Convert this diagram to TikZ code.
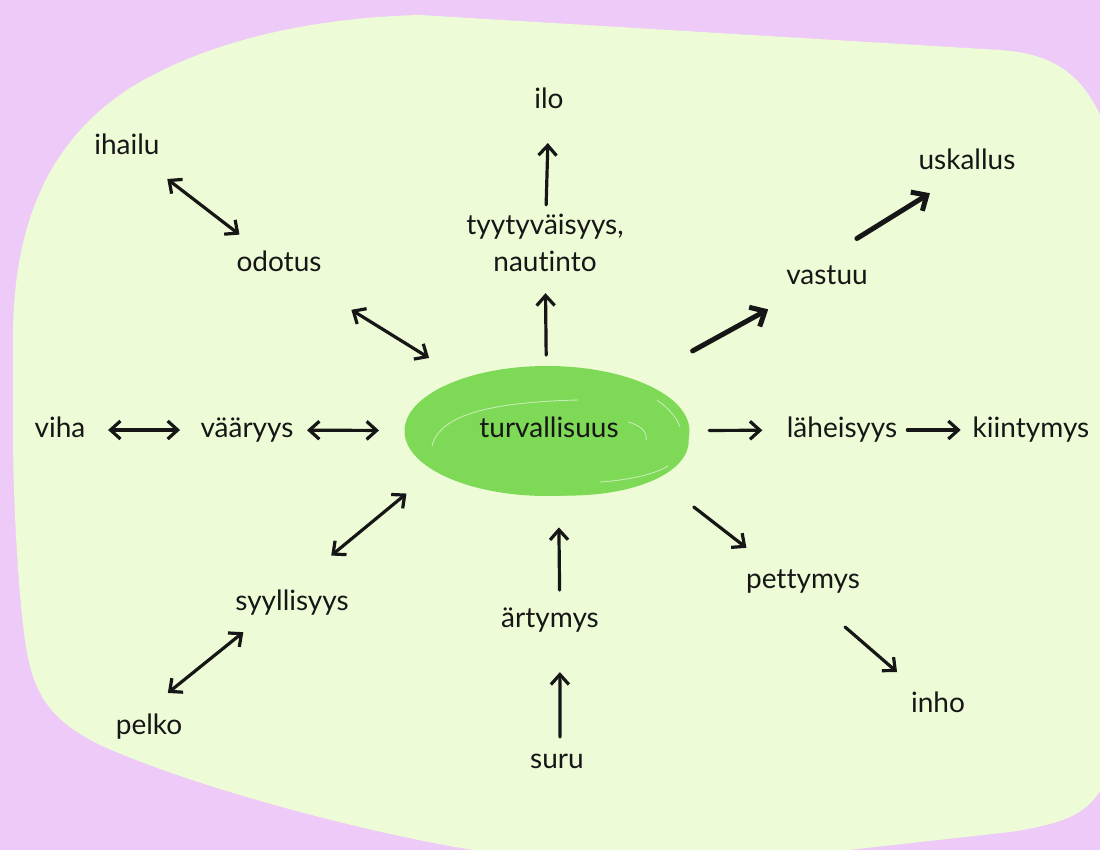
\documentclass[tikz,border=0pt]{standalone}
\usepackage{fontspec}
\setmainfont{Lato}[Ligatures=NoCommon]
\usetikzlibrary{arrows.meta,calc,shapes.geometric}
\definecolor{lilac}{HTML}{EDCAF7}
\definecolor{leaf}{HTML}{EEFBD7}
\definecolor{blob}{HTML}{7ED957}
\definecolor{ink}{HTML}{161616}
\newcommand{\word}{\fontsize{28}{37}\selectfont}

\begin{document}
\begin{tikzpicture}[x=1pt,y=-1pt,font=\word,
  lbl/.style={text=ink,inner sep=0pt,text height=20.5pt,text depth=6.5pt},
  arr/.style={draw=ink,line width=3.2pt,line cap=round,-{Straight Barb[length=10pt,width=18pt]}},
  dblarr/.style={arr,{Straight Barb[length=10pt,width=18pt]}-{Straight Barb[length=10pt,width=18pt]}},
  thickarr/.style={draw=ink,line width=5pt,line cap=round,-{Straight Barb[length=12pt,width=22pt]}},
  streak/.style={white,opacity=0.55,line width=0.9pt,line cap=round}]
\useasboundingbox (0,0) rectangle (1100,850);
\fill[lilac] (0,0) rectangle (1100,850);
% green sheet
\fill[leaf] (13,330) .. controls (15,220) and (50,140) .. (130,88)
  .. controls (200,45) and (300,18) .. (420,15) -- (1000,50)
  .. controls (1060,54) and (1090,80) .. (1110,140) -- (1110,770)
  .. controls (1095,810) and (1075,822) .. (1010,832) -- (830,852) -- (650,870) -- (480,851)
  .. controls (380,836) and (200,790) .. (100,745)
  .. controls (55,722) and (33,700) .. (25,640)
  .. controls (18,590) and (13,500) .. (13,430) -- cycle;

% centre
\node[ellipse,fill=blob,minimum width=285pt,minimum height=130pt,inner sep=0pt] (turv) at (547,431) {};
\fill[blob] (551,433) ellipse [x radius=138, y radius=62, rotate=-4];
\draw[streak] (432,446) .. controls (440,412) and (500,402) .. (578,400);
\draw[streak] (628,422) .. controls (640,425) and (648,432) .. (646,440);
\draw[streak] (600,482) .. controls (630,480) and (655,474) .. (668,466);
\draw[streak] (657,400) .. controls (668,408) and (676,416) .. (680,427);
\node[lbl] (turvtxt) at (549,430) {turvallisuus};

% labels
\node[lbl] (ilo) at (549,102) {ilo};
\node[lbl] (ihailu) at (127,148) {ihailu};
\node[lbl] (uskallus) at (967,163) {uskallus};
\node[lbl,align=center,text height=57.5pt] (tyyty) at (545,246) {tyytyväisyys,\\nautinto};
\node[lbl] (odotus) at (279,265) {odotus};
\node[lbl] (vastuu) at (827,277) {vastuu};
\node[lbl] (viha) at (60,430) {viha};
\node[lbl] (vaaryys) at (247,430) {vääryys};
\node[lbl] (laheisyys) at (842,430) {läheisyys};
\node[lbl] (kiintymys) at (1031,430) {kiintymys};
\node[lbl] (pettymys) at (803,581) {pettymys};
\node[lbl] (syyl) at (292,603) {syyllisyys};
\node[lbl] (artymys) at (550,620) {ärtymys};
\node[lbl] (inho) at (938,705) {inho};
\node[lbl] (pelko) at (149,727) {pelko};
\node[lbl] (suru) at (557,761) {suru};

% arrows
\draw[dblarr] ($(odotus)!0.26!(ihailu)$) -- ($(odotus)!0.735!(ihailu)$);
\draw[dblarr] ($(turv)!0.44!(odotus)$) -- ($(turv)!0.73!(odotus)$);
\draw[arr] ($(turv)!0.41!(tyyty)$) -- ($(turv)!0.745!(tyyty)$);
\draw[arr] ($(tyyty)!0.285!(ilo)$) -- ($(tyyty)!0.715!(ilo)$);
\draw[thickarr] ($(turv)!0.52!(vastuu)$) -- ($(turv)!0.79!(vastuu)$);
\draw[thickarr] ($(vastuu)!0.27!13:(uskallus)$) -- ($(vastuu)!0.735!(uskallus)$);
\draw[dblarr] ($(viha)!0.257!(vaaryys)$) -- ($(viha)!0.642!(vaaryys)$);
\draw[dblarr] ($(vaaryys)!0.2!(turv)$) -- ($(vaaryys)!0.44!(turv)$);
\draw[arr] ($(turv)!0.55!(laheisyys)$) -- ($(turv)!0.73!(laheisyys)$);
\draw[arr] ($(laheisyys)!0.346!(kiintymys)$) -- ($(laheisyys)!0.628!(kiintymys)$);
\draw[dblarr] ($(turv)!0.5!-10:(syyl)$) -- ($(turv)!0.81!-4:(syyl)$);
\draw[dblarr] ($(syyl)!0.3!-10:(pelko)$) -- ($(syyl)!0.81!-5:(pelko)$);
\draw[arr] ($(turv)!0.557!3:(pettymys)$) -- ($(turv)!0.779!(pettymys)$);
\draw[arr] ($(pettymys)!0.34!-5:(inho)$) -- ($(pettymys)!0.714!-1.5:(inho)$);
\draw[arr] ($(artymys)!0.166!-18.7:(turv)$) -- ($(artymys)!0.492!-6.4:(turv)$);
\draw[arr] ($(suru)!0.171!-9.9:(artymys)$) -- ($(suru)!0.63!-4.7:(artymys)$);
\end{tikzpicture}
\end{document}
